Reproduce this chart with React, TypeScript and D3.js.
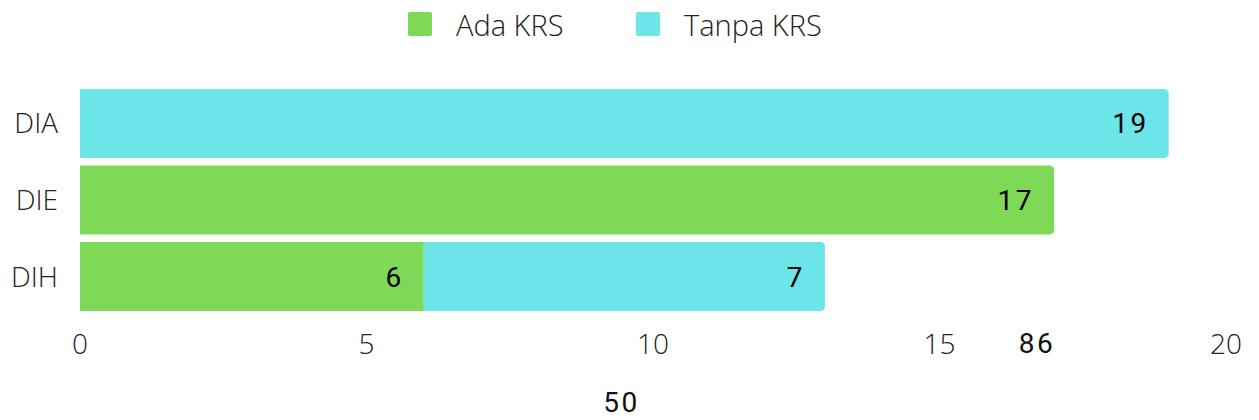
import React from "react";
import * as d3 from "d3";

const categories = ["DIA", "DIE", "DIH"];
const seriesNames = ["Ada KRS", "Tanpa KRS"];
const adaKRS = [0, 17, 6];
const tanpaKRS = [19, 0, 7];
const xTicks = [0, 5, 10, 15, 20];
const extraLabels = [
  { text: "86", value: 16.7, row: "axis" },
  { text: "50", value: 9.45, row: "below" },
];

const colors = ["#7ED957", "#6CE5E8"];

const W = 1259;
const H = 420;
const margin = { left: 80, right: 33, top: 89, bottom: 109 };

function barPath(x0: number, x1: number, y0: number, h: number, rRight: number) {
  const r = Math.min(rRight, (x1 - x0) / 2, h / 2);
  return `M${x0},${y0}H${x1 - r}Q${x1},${y0} ${x1},${y0 + r}V${y0 + h - r}Q${x1},${y0 + h} ${x1 - r},${y0 + h}H${x0}Z`;
}

export default function App() {
  const x = d3.scaleLinear().domain([0, 20]).range([margin.left, W - margin.right]);
  const y = d3
    .scaleBand()
    .domain(categories)
    .range([margin.top, H - margin.bottom])
    .paddingInner(0.1)
    .paddingOuter(0);
  const series = [adaKRS, tanpaKRS];

  const stack = categories.map((c, i) => {
    let acc = 0;
    const segs = series
      .map((s, k) => {
        const start = acc;
        acc += s[i];
        return { k, start, end: acc, v: s[i] };
      })
      .filter((d) => d.v > 0);
    return { c, segs };
  });

  const labelFont = "Roboto, 'Noto Sans', sans-serif";
  const lightFont = "'Open Sans', sans-serif";

  return (
    <svg width={W} height={H} style={{ position: "absolute", left: 0, top: 0 }}>
      {/* legend */}
      {seriesNames.map((n, k) => {
        const lx = k === 0 ? 408 : 636;
        return (
          <g key={n}>
            <rect x={lx} y={12} width={24} height={24} rx={2} fill={colors[k]} />
            <text x={lx + 48} y={36} fontFamily={lightFont} fontWeight={300} fontSize={29} fill="#222">
              {n}
            </text>
          </g>
        );
      })}

      {/* bars */}
      {stack.map(({ c, segs }) => {
        const y0 = y(c)!;
        const h = y.bandwidth();
        return (
          <g key={c}>
            {segs.map((s, j) => {
              const isLast = j === segs.length - 1;
              const x0 = x(s.start);
              const x1 = x(s.end);
              return (
                <g key={s.k}>
                  <path d={barPath(x0, x1, y0, h, isLast ? 5 : 0)} fill={colors[s.k]} />
                  <text
                    x={x1 - 20}
                    y={y0 + h / 2 + 10}
                    textAnchor="end"
                    fontFamily={labelFont}
                    fontSize={28}
                    letterSpacing={2.5}
                    fill="#000"
                  >
                    {s.v}
                  </text>
                </g>
              );
            })}
            <text
              x={58}
              y={y0 + h / 2 + 10}
              textAnchor="end"
              fontFamily={lightFont}
              fontWeight={300}
              fontSize={28}
              fill="#222"
            >
              {c}
            </text>
          </g>
        );
      })}

      {/* x axis labels */}
      {xTicks.map((t) => (
        <text
          key={t}
          x={x(t)}
          y={354}
          textAnchor="middle"
          fontFamily={lightFont}
          fontWeight={300}
          fontSize={28}
          fill="#222"
        >
          {t}
        </text>
      ))}

      {extraLabels.map((l) => (
        <text
          key={l.text}
          x={x(l.value)}
          y={l.row === "axis" ? 353 : 412}
          textAnchor="middle"
          fontFamily={labelFont}
          fontSize={28}
          letterSpacing={2.5}
          fill="#111"
        >
          {l.text}
        </text>
      ))}
    </svg>
  );
}
